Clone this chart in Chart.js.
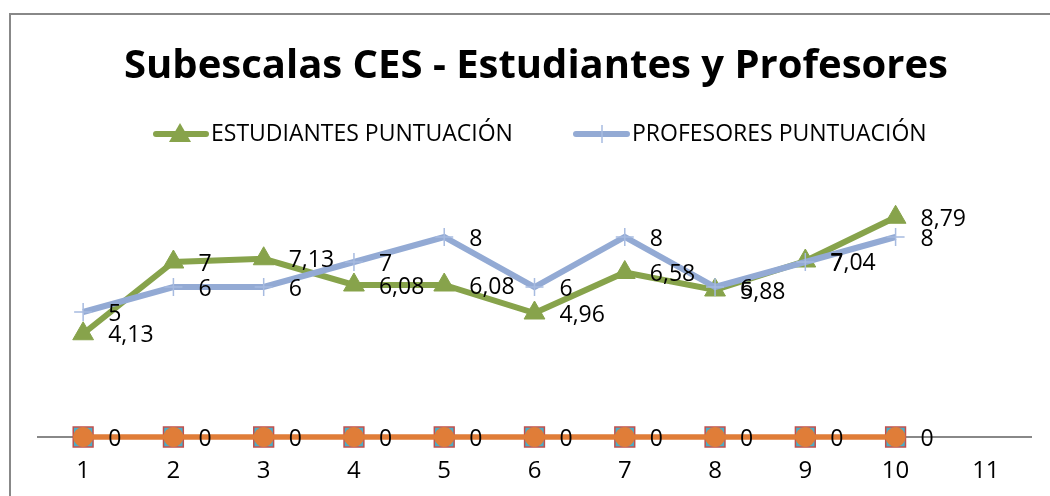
<!DOCTYPE html>
<html>
<head>
<meta charset="utf-8">
<script src="https://cdn.jsdelivr.net/npm/chart.js@4/dist/chart.umd.min.js"></script>
<style>
  html, body { margin: 0; padding: 0; background: #fff; }
  #wrap { width: 1050px; height: 496px; position: relative; }
</style>
</head>
<body>
<div id="wrap"><canvas id="cesChart" width="1050" height="496"></canvas></div>
<script>
const categories = ['1', '2', '3', '4', '5', '6', '7', '8', '9', '10', '11'];
const estudiantes = [4.13, 7, 7.13, 6.08, 6.08, 4.96, 6.58, 5.88, 7.04, 8.79, null];
const profesores = [5, 6, 6, 7, 8, 6, 8, 6, 7, 8, null];
const serieCero1 = [0, 0, 0, 0, 0, 0, 0, 0, 0, 0, null];
const serieCero2 = [0, 0, 0, 0, 0, 0, 0, 0, 0, 0, null];
const titleText = 'Subescalas CES - Estudiantes y Profesores';

const GREEN = '#87A34B';
const BLUE = '#93AAD4';
const ORANGE = '#E07D38';
const FONT = '"Open Sans", "Noto Sans", sans-serif';

const fmt = v => String(v).replace('.', ',');

// frame, title, legend and value labels
const decor = {
    id: 'decor',
    beforeDraw(chart) {
        const c = chart.ctx;
        c.save();
        c.fillStyle = '#fff';
        c.fillRect(0, 0, chart.width, chart.height);
        c.strokeStyle = '#888';
        c.lineWidth = 2;
        c.strokeRect(10, 14, 1100, 600);
        c.restore();
    },
    afterDraw(chart) {
        const c = chart.ctx;
        c.save();
        c.fillStyle = '#000';
        c.textBaseline = 'middle';
        c.textAlign = 'center';
        c.font = 'bold 40px ' + FONT;
        c.fillText(titleText, 536, 67);

        // legend
        c.font = '23px ' + FONT;
        c.textAlign = 'left';
        const ly = 134;
        c.lineCap = 'round';
        c.strokeStyle = GREEN; c.lineWidth = 6;
        c.beginPath(); c.moveTo(156, ly); c.lineTo(206, ly); c.stroke();
        c.fillStyle = GREEN;
        c.beginPath(); c.moveTo(180, ly - 11); c.lineTo(191, ly + 8); c.lineTo(169, ly + 8); c.closePath(); c.fill();
        c.fillStyle = '#000';
        c.fillText(chart.data.datasets[1].label, 211, ly);

        c.strokeStyle = BLUE; c.lineWidth = 6;
        c.beginPath(); c.moveTo(576, ly); c.lineTo(627, ly); c.stroke();
        c.strokeStyle = '#A7BBE0'; c.lineWidth = 1.5; c.lineCap = 'butt';
        c.beginPath(); c.moveTo(602, ly - 9); c.lineTo(602, ly + 9); c.stroke();
        c.fillStyle = '#000';
        c.fillText(chart.data.datasets[0].label, 632, ly);

        // data labels
        c.font = '23px ' + FONT;
        chart.data.datasets.forEach((ds, i) => {
            if (i === 3) return;
            const meta = chart.getDatasetMeta(i);
            meta.data.forEach((pt, j) => {
                const v = ds.data[j];
                if (v === null) return;
                c.fillText(fmt(v), pt.x + 25, pt.y + 2);
            });
        });
        c.restore();
    }
};

new Chart(document.getElementById('cesChart'), {
    type: 'line',
    data: {
        labels: categories,
        datasets: [
            {
                label: 'PROFESORES PUNTUACIÓN',
                data: profesores,
                borderColor: BLUE,
                borderWidth: 6,
                pointStyle: 'cross',
                pointRadius: 9,
                pointBorderColor: '#A7BBE0',
                pointBorderWidth: 1.5,
                clip: false,
                order: 0
            },
            {
                label: 'ESTUDIANTES PUNTUACIÓN',
                data: estudiantes,
                borderColor: GREEN,
                borderWidth: 6,
                pointStyle: 'triangle',
                pointRadius: 12,
                pointBackgroundColor: GREEN,
                pointBorderColor: GREEN,
                pointBorderWidth: 1,
                clip: false,
                order: 1
            },
            {
                label: 'Serie3',
                data: serieCero1,
                borderColor: ORANGE,
                borderWidth: 5,
                pointStyle: 'circle',
                pointRadius: 9.5,
                pointBackgroundColor: ORANGE,
                pointBorderColor: ORANGE,
                pointBorderWidth: 1,
                clip: false,
                order: 2
            },
            {
                label: 'Serie4',
                data: serieCero2,
                borderColor: ORANGE,
                borderWidth: 5,
                pointStyle: 'rect',
                pointRadius: 14,
                pointBackgroundColor: '#4BACC6',
                pointBorderColor: '#C0504D',
                pointBorderWidth: 1.5,
                clip: false,
                order: 3
            }
        ]
    },
    options: {
        responsive: false,
        animation: false,
        layout: { padding: { top: 187, left: 38, right: 19, bottom: 10 } },
        scales: {
            x: {
                offset: true,
                grid: { display: false, drawTicks: false },
                border: { display: true, color: '#888', width: 2 },
                ticks: { color: '#000', padding: 20, font: { family: FONT, size: 24 } },
                afterFit: s => { s.height = 49; }
            },
            y: {
                display: false,
                min: 0,
                max: 10
            }
        },
        plugins: {
            legend: { display: false },
            title: { display: false },
            tooltip: { enabled: false }
        }
    },
    plugins: [decor]
});
</script>
</body>
</html>
